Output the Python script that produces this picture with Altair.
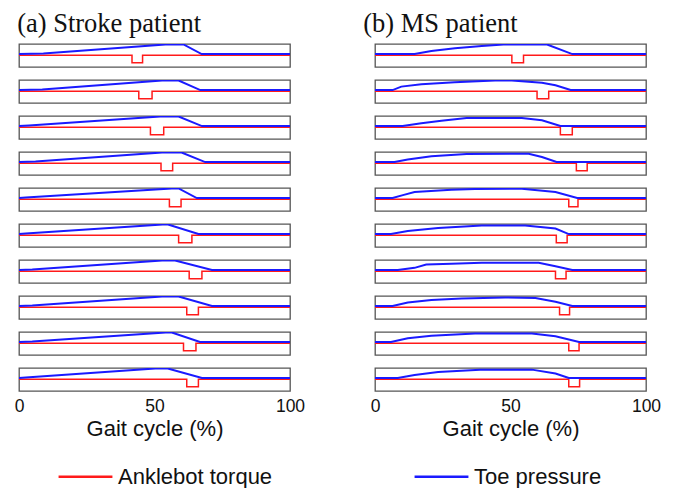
import altair as alt
import pandas as pd

# ---------------- data ----------------
SERIES = ["Anklebot torque", "Toe pressure"]
COLORS = ["#ff1a1a", "#1a1aff"]

# (a) Stroke patient: toe pressure (blue) per trial
stroke_blue_x = [
    [0, 9.0, 54.0, 60.7, 67.4, 100],
    [0, 8.6, 52.8, 58.9, 66.9, 100],
    [0, 3.7, 52.1, 58.9, 67.5, 100],
    [0, 6.1, 52.8, 60.0, 68.7, 100],
    [0, 2.5, 56.4, 58.9, 65.6, 100],
    [0, 2.5, 53.0, 55.0, 66.2, 100],
    [0, 4.9, 52.8, 57.6, 71.2, 100],
    [0, 4.9, 52.8, 58.9, 71.2, 100],
    [0, 4.9, 54.1, 56.4, 66.8, 100],
    [0, 2.5, 50.3, 54.9, 67.5, 100],
]
stroke_blue_y = [
    [0, 0.05, 1.0, 1.0, 0, 0],
    [0, 0.05, 1.0, 1.0, 0, 0],
    [0, 0.05, 1.0, 1.0, 0, 0],
    [0, 0.05, 1.0, 1.0, 0, 0],
    [0, 0.05, 1.0, 1.0, 0, 0],
    [0, 0.05, 1.0, 1.0, 0, 0],
    [0, 0.05, 1.0, 1.0, 0, 0],
    [0, 0.05, 1.0, 1.0, 0, 0],
    [0, 0.05, 1.0, 1.0, 0, 0],
    [0, 0.05, 1.0, 1.0, 0, 0],
]
# (a) Stroke patient: anklebot torque (red) dip start / end per trial
stroke_dip_start = [41.7, 44.2, 48.5, 52.4, 55.5, 58.9, 62.8, 61.9, 60.7, 61.9]
stroke_dip_end = [45.6, 49.1, 53.4, 56.7, 59.8, 63.8, 67.5, 66.2, 65.3, 66.2]

# (b) MS patient: toe pressure (blue) per trial
ms_blue_x = [
    [0, 14.6, 20.8, 29.5, 39.4, 47.4, 63.5, 72.8, 100],
    [0, 6.5, 9.7, 17.1, 29.4, 44.3, 50.5, 61.6, 66.6, 72.2, 100],
    [0, 10.2, 17.1, 24.5, 33.8, 54.2, 61.6, 68.4, 100],
    [0, 7.2, 12.1, 20.8, 33.8, 56.7, 61.6, 67.0, 100],
    [0, 6.5, 10.3, 14.6, 28.2, 36.9, 54.2, 66.6, 74.6, 100],
    [0, 5.9, 12.1, 23.3, 39.4, 55.4, 66.6, 71.5, 100],
    [0, 8.4, 14.6, 18.9, 28.2, 39.4, 60.4, 66.6, 72.8, 100],
    [0, 6.5, 12.1, 20.8, 32.0, 48.0, 59.2, 66.6, 72.8, 100],
    [0, 5.9, 12.1, 20.8, 36.9, 57.9, 66.6, 75.3, 100],
    [0, 8.4, 14.6, 23.3, 38.8, 57.9, 66.6, 71.5, 100],
]
ms_blue_y = [
    [0, 0, 0.33, 0.60, 0.83, 1.0, 1.0, 0, 0],
    [0, 0, 0.36, 0.60, 0.82, 1.0, 1.0, 0.76, 0.50, 0, 0],
    [0, 0, 0.30, 0.56, 0.85, 0.85, 0.60, 0, 0],
    [0, 0, 0.27, 0.60, 0.83, 0.87, 0.53, 0, 0],
    [0, 0, 0.31, 0.63, 0.88, 0.94, 0.97, 0.63, 0, 0],
    [0, 0, 0.33, 0.63, 0.90, 0.90, 0.57, 0, 0],
    [0, 0, 0.23, 0.57, 0.67, 0.77, 0.77, 0.40, 0, 0],
    [0, 0, 0.38, 0.63, 0.78, 0.90, 0.85, 0.44, 0, 0],
    [0, 0, 0.40, 0.67, 0.90, 0.90, 0.60, 0, 0],
    [0, 0, 0.31, 0.63, 0.88, 0.88, 0.47, 0, 0],
]
# (b) MS patient: anklebot torque (red) dip start / end per trial
ms_dip_start = [50.5, 59.8, 68.4, 74.3, 71.5, 66.9, 66.6, 68.1, 71.5, 71.5]
ms_dip_end = [54.8, 64.1, 72.8, 78.3, 74.9, 70.9, 70.5, 71.8, 75.3, 75.5]

TORQUE_BASE = -0.12
TORQUE_DIP = -0.9


def build_table(blue_x, blue_y, dip_s, dip_e):
    rows = []
    for t in range(len(blue_x)):
        for i, (xv, yv) in enumerate(zip(blue_x[t], blue_y[t])):
            rows.append({"trial": t, "series": SERIES[1], "x": xv, "y": yv, "i": i})
        rx = [0, dip_s[t], dip_s[t], dip_e[t], dip_e[t], 100]
        ry = [TORQUE_BASE, TORQUE_BASE, TORQUE_DIP, TORQUE_DIP, TORQUE_BASE, TORQUE_BASE]
        for i, (xv, yv) in enumerate(zip(rx, ry)):
            rows.append({"trial": t, "series": SERIES[0], "x": xv, "y": yv, "i": i})
    return pd.DataFrame(rows)


stroke_df = build_table(stroke_blue_x, stroke_blue_y, stroke_dip_start, stroke_dip_end)
ms_df = build_table(ms_blue_x, ms_blue_y, ms_dip_start, ms_dip_end)

color_scale = alt.Scale(domain=SERIES, range=COLORS)
legend = alt.Legend(
    orient="none", legendX=38, legendY=404, direction="horizontal", title=None,
    symbolType="stroke", symbolSize=2900, symbolStrokeWidth=2.5,
    labelFontSize=22, labelFont="Liberation Sans", labelColor="#111",
    labelOffset=4, columnPadding=136,
)


def column(df, title, dx):
    base = alt.Chart().encode(
        x=alt.X("x:Q", scale=alt.Scale(domain=[0, 100], nice=False),
                axis=alt.Axis(values=[0, 50, 100], title="Gait cycle (%)", ticks=False,
                              domain=False, grid=False, labelFlush=False,
                              labelFont="Liberation Sans", labelFontSize=17.5,
                              labelColor="#111", labelPadding=5,
                              titleFont="Liberation Sans", titleFontSize=22,
                              titleFontWeight="normal", titleColor="#111",
                              titlePadding=4)),
        y=alt.Y("y:Q", scale=alt.Scale(domain=[-1.35, 1.05], nice=False), axis=None),
        color=alt.Color("series:N", scale=color_scale, legend=legend),
        order=alt.Order("i:Q"),
    )
    red = base.mark_line(strokeWidth=1.5, clip=True).transform_filter(
        alt.datum.series == SERIES[0])
    blue = base.mark_line(strokeWidth=2, clip=True).transform_filter(
        alt.datum.series == SERIES[1])
    return alt.layer(red, blue, data=df).properties(width=271, height=23).facet(
        row=alt.Row("trial:O", header=None), spacing=11.0,
        title=alt.TitleParams(title, anchor="start", font="Liberation Serif",
                              fontSize=26.5, fontWeight="normal", color="#111",
                              dx=dx, offset=6),
    )


chart = alt.hconcat(
    column(stroke_df, "(a) Stroke patient", 3),
    column(ms_df, "(b) MS patient", -7),
    spacing=58,
).properties(
    padding={"left": 6, "top": 2, "right": 0, "bottom": 0}
).configure_view(
    stroke="#555", strokeWidth=1.3
)

chart.save("out.html", embed_options={"renderer": "svg", "actions": False})
